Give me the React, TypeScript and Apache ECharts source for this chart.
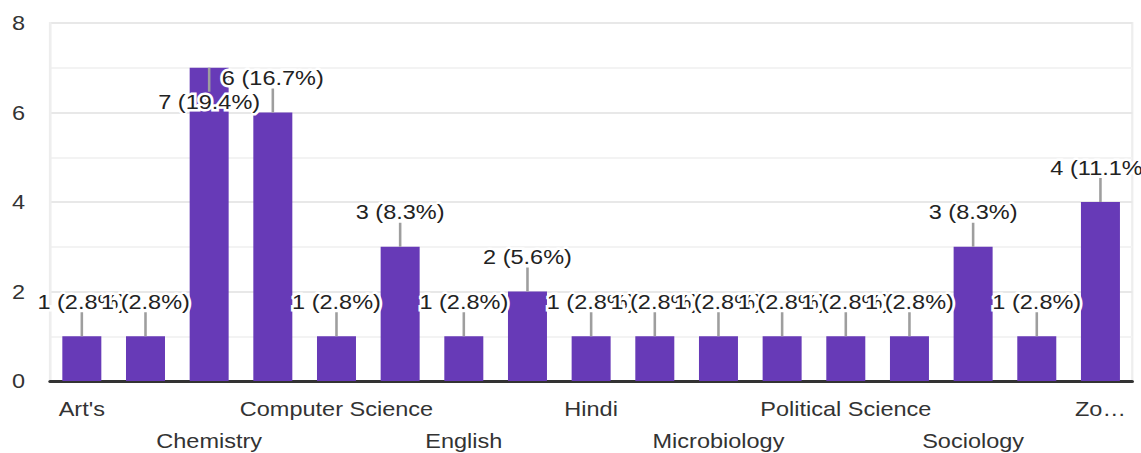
import React, { useEffect, useRef } from "react";
import * as echarts from "echarts";

const categories: string[] = [
  "Art's", "Botany", "Chemistry", "Commerce", "Computer Science", "Economics",
  "English", "Geography", "Hindi", "History", "Microbiology", "Physics",
  "Political Science", "Psychology", "Sociology", "Statistics", "Zoology",
];
const counts: number[] = [1, 1, 7, 6, 1, 3, 1, 2, 1, 1, 1, 1, 1, 1, 3, 1, 4];
const yTicks = { min: 0, max: 8, interval: 2 };

const FONT = "'Liberation Sans', Arial, sans-serif";
const FS = 21;
const OUT_W = 1141;
const OUT_H = 453;
const SX = 1.12;
const IN_W = OUT_W / SX;

export default function App() {
  const ref = useRef<HTMLDivElement>(null);
  useEffect(() => {
    if (!ref.current) return;
    const chart = echarts.init(ref.current, null, { renderer: "svg" });
    const total = counts.reduce((a, b) => a + b, 0);
    const labelData = counts.map((v, i) => [i, v]);
    chart.setOption({
      animation: false,
      grid: {
        left: 50 / SX, right: 9 / SX, top: 23, bottom: 72,
        outerBoundsMode: "none",
        containLabel: false,
        show: true, borderColor: "#eeeeee", borderWidth: 2,
      },
      xAxis: {
        type: "category",
        data: categories,
        axisLine: { show: true, lineStyle: { color: "#333333", width: 3 } },
        axisTick: { show: false },
        splitLine: { show: false },
        axisLabel: {
          interval: 1,
          margin: 12,
          fontSize: FS,
          fontFamily: FONT,
          color: "#333333",
          lineHeight: 32,
          formatter: (value: string, index: number) => {
            let t = value;
            if (index === categories.length - 1) t = value.slice(0, 2) + "…";
            return index % 4 === 2 ? "\n" + t : t;
          },
        },
      },
      yAxis: {
        type: "value",
        min: yTicks.min,
        max: yTicks.max,
        interval: yTicks.interval,
        axisLine: { show: true, lineStyle: { color: "#eeeeee", width: 2 } },
        axisTick: { show: false },
        axisLabel: { margin: 25 / SX, fontSize: FS, fontFamily: FONT, color: "#333333" },
        splitLine: { show: true, lineStyle: { color: "#e8e8e8", width: 2 } },
        minorTick: { show: false, splitNumber: 2 },
        minorSplitLine: { show: true, lineStyle: { color: "#f3f3f3", width: 2 } },
      },
      series: [
        {
          type: "bar",
          data: counts,
          barWidth: 39 / SX,
          itemStyle: { color: "#673ab7" },
        },
        {
          type: "custom",
          data: labelData,
          z: 10,
          renderItem: (params: any, api: any) => {
            const i = api.value(0);
            const v = api.value(1);
            const pt = api.coord([i, v]);
            const x = pt[0];
            const y = pt[1];
            const len = 24;
            const top = params.coordSys.y;
            const flip = y - len - 24 < top;
            const y2 = flip ? y + len : y - len;
            const text = `${v} (${((v / total) * 100).toFixed(1)}%)`;
            const base = {
              text,
              x: 0, y: 0,
              fontSize: FS,
              fontFamily: FONT,
              align: "center",
              verticalAlign: flip ? "top" : "bottom",
            };
            return {
              type: "group",
              children: [
                {
                  type: "line",
                  shape: { x1: x, y1: y, x2: x, y2 },
                  style: { stroke: "#9e9e9e", lineWidth: 2.3 },
                },
                {
                  type: "text",
                  x, y: y2,
                  style: { ...base, fill: "#ffffff", stroke: "#ffffff", lineWidth: 5, lineJoin: "round" },
                },
                {
                  type: "text",
                  x, y: y2,
                  style: { ...base, fill: "#222222" },
                },
              ],
            };
          },
        },
      ],
    });
    return () => chart.dispose();
  }, []);
  return (
    <div
      style={{ position: "absolute", left: 0, top: 0, width: OUT_W, height: OUT_H, overflow: "hidden", background: "#ffffff" }}
    >
      <div
        ref={ref}
        style={{ width: IN_W, height: OUT_H, transform: `scaleX(${SX})`, transformOrigin: "0 0" }}
      />
    </div>
  );
}
